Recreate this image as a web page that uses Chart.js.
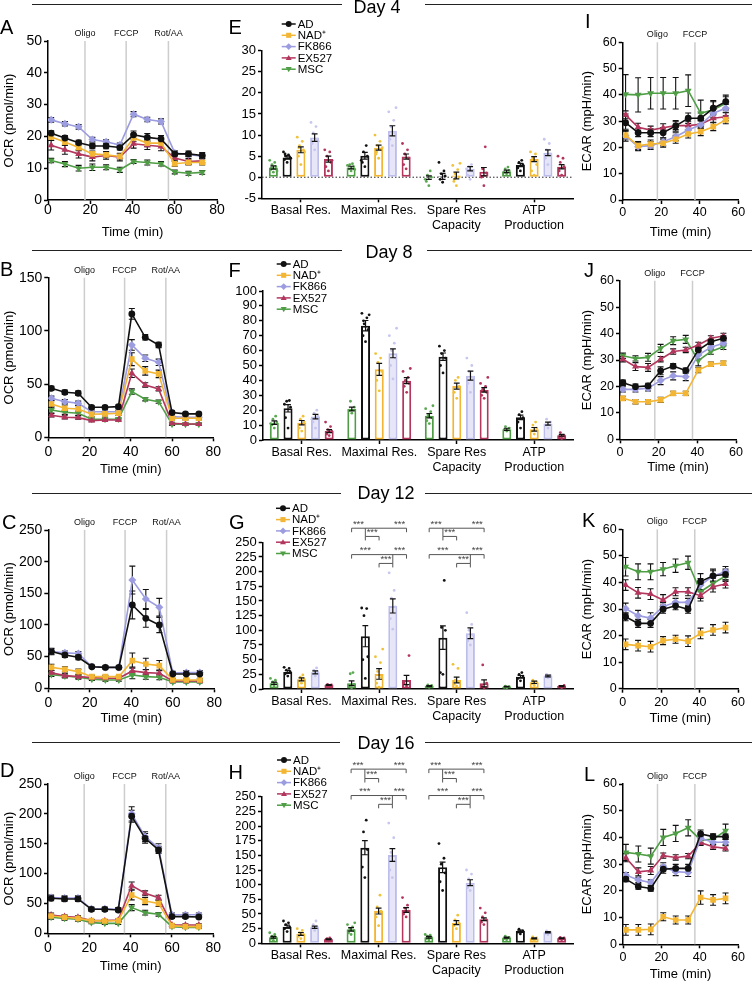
<!DOCTYPE html>
<html>
<head>
<meta charset="utf-8">
<script src="https://cdn.jsdelivr.net/npm/chart.js@4.4.1/dist/chart.umd.min.js"></script>
<style>
  body { margin: 0; background: #fff; font-family: 'Liberation Sans', Arial, sans-serif; }
  #page { position: relative; width: 752px; height: 982px; overflow: hidden; background: #fff; }
  canvas { position: absolute; }
  .letter { position: absolute; font-size: 20px; line-height: 20px; color: #000; }
  .day { position: absolute; font-size: 18px; line-height: 18px; color: #000; transform: translate(-50%, -50%); white-space: nowrap; }
  .rule { position: absolute; height: 0; border-top: 1.5px solid #222; }
</style>
</head>
<body>
<div id="page"></div>
<script>
const FONT = "'Liberation Sans', Arial, sans-serif";

// ---- series ----
const seriesNames = ['AD', 'NAD⁺', 'FK866', 'EX527', 'MSC'];
const seriesColors = ['#111111', '#f3b634', '#9c9ce0', '#b3365d', '#4f9e46'];
const dotColors = ['#111111', '#f0c23a', '#c6c6ef', '#b3365d', '#5aa852'];
const markers = ['circle', 'rect', 'rectRot', 'triangle', 'triangleDown'];
// bar order inside each group: MSC, AD, NAD+, FK866, EX527
const barSeries = [4, 0, 1, 2, 3];

// ---- time axes ----
const timesOCR = [1.5, 8, 14.5, 21, 27.5, 34, 40.5, 47, 53.5, 60, 66.5, 73];
const timesECAR = [1.5, 8, 14.5, 21, 27.5, 34, 40.5, 47, 53.5];
const ocrInjections = ['Oligo', 'FCCP', 'Rot/AA'];
const ocrInjectionTimes = [17.5, 37, 57];
const ecarInjections = ['Oligo', 'FCCP'];
const ecarInjectionTimes = [18, 37.5];
const ocrTimeTicks = [0, 20, 40, 60, 80];
const ecarTimeTicks = [0, 20, 40, 60];

// ---- y tick labels ----
const ocrTicksDay4 = [0, 10, 20, 30, 40, 50];
const ocrTicksDay8 = [0, 50, 100, 150];
const ocrTicksDay12 = [0, 50, 100, 150, 200, 250];
const ocrTicksDay16 = [0, 50, 100, 150, 200, 250];
const ecarTicks = [0, 10, 20, 30, 40, 50, 60];
const barTicksDay4 = [-5, 0, 5, 10, 15, 20, 25, 30];
const barTicksDay8 = [0, 10, 20, 30, 40, 50, 60, 70, 80, 90, 100];
const barTicksDay12 = [0, 25, 50, 75, 100, 125, 150, 175, 200, 225, 250];
const barTicksDay16 = [0, 25, 50, 75, 100, 125, 150, 175, 200, 225, 250];

// ---- OCR means / SEM (rows: AD, NAD+, FK866, EX527, MSC) ----
const ocrDay4Mean = [
  [21, 19.5, 18, 17, 17, 16.5, 20.5, 19.7, 19.2, 14.5, 14.5, 14],
  [19.8, 18.2, 16.5, 14.5, 14.2, 13.7, 19.5, 17.9, 17.9, 11.4, 11.8, 11.8],
  [25.2, 24, 23, 19, 18.3, 17.3, 27, 25.3, 24.7, 14.8, 14.3, 13.8],
  [17.2, 15.8, 14.5, 13.5, 14, 13.5, 17.7, 17.2, 16.8, 13.2, 12.1, 12.3],
  [12.4, 11.3, 10, 10.3, 10.3, 9.5, 12.1, 11.8, 11.4, 8.8, 8.4, 8.7]
];
const ocrDay4Sem = [
  [0.8, 0.8, 0.8, 0.9, 0.9, 0.8, 1.2, 1.2, 1.1, 0.9, 0.9, 0.9],
  [1.0, 1.0, 1.0, 0.9, 0.9, 0.8, 1.2, 1.1, 1.1, 0.8, 0.8, 0.8],
  [0.7, 0.7, 0.7, 0.7, 0.6, 0.6, 0.8, 0.7, 0.8, 0.6, 0.6, 0.6],
  [1.5, 1.4, 1.3, 1.2, 1.2, 1.2, 1.4, 1.3, 1.3, 0.9, 0.9, 0.9],
  [0.7, 0.8, 0.9, 1.0, 0.8, 0.8, 0.6, 0.8, 0.7, 0.6, 0.6, 0.6]
];
const ocrDay8Mean = [
  [46, 42.3, 41.4, 28.2, 28.2, 28.8, 116, 94, 86.8, 23.2, 22, 22],
  [31.3, 27.3, 26.6, 21.6, 22, 22.6, 73.4, 62.4, 59.6, 17.9, 17.9, 17.9],
  [36.7, 33.5, 32, 24, 24, 24, 86.8, 74.3, 70.5, 19.4, 18.8, 18.8],
  [20.7, 18.8, 18.5, 15.7, 16.3, 16.3, 60.2, 49.2, 45.5, 13.2, 12.5, 12.5],
  [25.7, 23.5, 22.6, 17, 17, 17.2, 43, 35.7, 33.5, 12.2, 12.2, 12.2]
];
const ocrDay8Sem = [
  [2, 2, 2, 1.5, 1.5, 1.5, 5, 2.5, 2.5, 1.5, 1, 1],
  [3, 3, 3, 2, 2, 2, 6, 4, 3.5, 1.5, 1.5, 1.5],
  [2, 2, 2, 1.5, 1.5, 1.5, 5, 3, 3, 1, 1, 1],
  [1.5, 1.5, 1.5, 1, 1, 1, 4, 2, 2, 1, 1, 1],
  [3, 2, 2, 1, 1, 1, 2.5, 1.5, 1.5, 1, 1, 1]
];
const ocrDay12Mean = [
  [58, 52.6, 49, 34, 33, 33, 131.6, 110.5, 100, 22.6, 22.6, 22.6],
  [33, 30, 26.3, 18.4, 18.4, 18.4, 43.7, 38.4, 35.8, 13.2, 13.2, 13.2],
  [58, 56, 55, 34, 33, 33, 171, 141, 128, 24, 25, 25],
  [24.7, 20, 18.4, 16.8, 15.8, 15.8, 27.4, 24.7, 23.7, 11.6, 11.6, 11.6],
  [21.6, 19.5, 17.4, 14.2, 13.2, 13.2, 21, 18.4, 17.4, 10, 10, 10]
];
const ocrDay12Sem = [
  [5, 4, 4, 2, 2, 2, 22, 14, 12, 2, 2, 2],
  [5, 4, 4, 2, 2, 2, 12, 9, 8, 2, 2, 2],
  [4, 3, 3, 2, 2, 2, 22, 15, 14, 3, 3, 3],
  [3, 3, 3, 2, 2, 2, 6, 5, 5, 1.5, 1.5, 1.5],
  [3, 3, 3, 2, 2, 2, 6, 4, 4, 1.5, 1.5, 1.5]
];
const ocrDay16Mean = [
  [58.6, 57.5, 57.5, 40.2, 40.2, 39, 196, 159, 139.5, 28, 28, 27.3],
  [29, 26.8, 25, 21.2, 20.6, 21.2, 64, 54, 50, 12.8, 11.2, 11.2],
  [60, 59, 59, 41, 41, 40, 200, 162, 143, 31, 31, 31],
  [30.7, 28, 26.8, 21.2, 21.2, 22.3, 79.8, 67, 59.7, 14, 14, 14],
  [26.8, 25, 23.4, 17.9, 16.7, 16.7, 43, 34.6, 31.8, 11.2, 10, 10]
];
const ocrDay16Sem = [
  [4, 4, 4, 3, 3, 3, 10, 8, 6, 3, 3, 3],
  [3, 3, 3, 2, 2, 2, 8, 6, 5, 2, 2, 2],
  [4, 4, 4, 3, 3, 3, 12, 8, 7, 3, 3, 3],
  [3, 3, 3, 2, 2, 2, 6, 4, 4, 2, 2, 2],
  [3, 3, 3, 2, 2, 2, 5, 4, 3, 2, 2, 2]
];

// ---- ECAR means / SEM ----
const ecarDay4Mean = [
  [29.4, 25.6, 25.6, 25.6, 28.2, 31.1, 31.1, 34.9, 37.4],
  [24.7, 20.7, 21.3, 21.6, 23.1, 25.1, 26, 27.9, 30.5],
  [24.4, 20.3, 20.7, 22.2, 24.1, 26.6, 28.6, 33, 34.9],
  [32.4, 27.7, 26.6, 27.5, 28.3, 28.3, 28.8, 31.1, 31.7],
  [40.2, 40, 40.6, 40.6, 40.6, 41.6, 33, 34.3, 36.8]
];
const ecarDay4Sem = [
  [2.5, 1.5, 1.5, 2, 2, 2, 2, 2.5, 2.5],
  [1.5, 1.5, 1.5, 1.5, 1.5, 1.5, 1.5, 1.5, 1.5],
  [2, 1.5, 1.5, 1.5, 1.5, 1.5, 1.5, 1.5, 1.5],
  [1.5, 1.5, 1.5, 1.5, 1.5, 1.5, 1.5, 1.5, 1.5],
  [7.5, 6.5, 6, 6, 6, 6, 5, 3.5, 2.5]
];
const ecarDay8Mean = [
  [21.4, 19.9, 20.2, 25.9, 27.7, 26, 33.8, 36.9, 38.2],
  [15.5, 14.2, 14.2, 14.9, 17.4, 17.4, 26.2, 28.4, 28.8],
  [18.9, 18.9, 19.3, 22.2, 24, 23.7, 31.9, 34.8, 36.3],
  [30.3, 27.5, 27.2, 30.3, 33.2, 33.8, 35.7, 38.2, 39.1],
  [31.6, 30.6, 31, 34.4, 37.3, 37.8, 29.8, 33.2, 35]
];
const ecarDay8Sem = [
  [1, 1, 1, 1.5, 1, 1, 1.5, 1, 1],
  [0.8, 0.8, 0.8, 1, 0.8, 0.8, 1, 0.8, 0.8],
  [1, 1, 1, 1.5, 1.5, 1.5, 1.5, 1, 1],
  [1, 1.5, 1.5, 1, 1, 1, 1, 1, 1],
  [1, 1, 1.5, 1.5, 1.5, 1.5, 2, 1, 1]
];
const ecarDay12Mean = [
  [27.1, 24.6, 24.6, 29.9, 31.2, 29.9, 40.3, 42.5, 43],
  [16.7, 16.2, 15.8, 18.1, 18.6, 17.9, 20.8, 22.1, 23],
  [30.2, 27.5, 26.6, 30.9, 32.5, 32.5, 39, 42.4, 44],
  [39, 36.1, 35.6, 33.4, 36.5, 36.5, 35, 38.4, 39.4],
  [45.9, 44, 44, 45, 46.3, 47.4, 36.5, 39.6, 42.4]
];
const ecarDay12Sem = [
  [1.5, 1.5, 1.5, 1.5, 1.5, 1.5, 3, 2.5, 2],
  [2, 2, 2, 1.5, 1.5, 2, 2, 2, 2],
  [2, 2, 2, 1.5, 1.5, 1.5, 2.5, 2, 2],
  [2, 2, 2, 2, 1.5, 1.5, 2, 2, 1.5],
  [3.5, 3, 3, 2.5, 2.5, 2.5, 2.5, 2, 2]
];
const ecarDay16Mean = [
  [24.4, 21.6, 20.9, 28.1, 28.4, 28.4, 41.3, 40.3, 40.3],
  [5.4, 5.4, 5.6, 10.3, 9.1, 9.1, 17.5, 16.6, 17.2],
  [25.9, 24.1, 23.1, 29, 27.2, 26.9, 39.7, 38.2, 38.2],
  [32.4, 27.1, 27.6, 33.2, 32.5, 33, 38, 36.5, 35.9],
  [34.4, 33.8, 33, 40, 41.5, 43.6, 39, 39.3, 42.5]
];
const ecarDay16Sem = [
  [1, 1, 1, 1.5, 1.5, 1.5, 1.5, 1, 1],
  [2, 2, 2, 1.5, 1.5, 1.5, 2.5, 2, 2],
  [1, 1, 1, 1.5, 1.5, 1.5, 1.5, 1, 1],
  [1.5, 1.5, 1.5, 1, 1, 1, 1, 1, 1],
  [3, 3, 3, 3, 3, 3, 1.5, 2, 2.5]
];

// ---- bar panels (rows: MSC, AD, NAD+, FK866, EX527; cols: categories) ----
const categories = [['Basal Res.'], ['Maximal Res.'], ['Spare Res', 'Capacity'], ['ATP', 'Production']];

const barsDay4Mean = [[2.3, 2.3, -0.1, 1.4], [4.7, 5.1, 0.2, 2.9], [6.5, 7.0, 0.4, 4.3], [9.4, 11.0, 2.0, 5.8], [4.3, 4.9, 1.3, 2.5]];
const barsDay4Sem = [[0.4, 0.3, 0.4, 0.3], [0.4, 0.8, 0.7, 0.4], [0.7, 0.6, 0.8, 0.6], [0.9, 1.2, 0.5, 0.7], [0.7, 0.6, 1.0, 0.5]];
const dotsDay4 = [
  [[1.2, 1.8, 2.5, 3.0, 3.5, 4.0, 1.5, 2.2], [1.5, 2.0, 2.5, 3.0, 3.2, 2.8, 1.8], [-2.0, -1.0, 0.0, 0.5, 1.5, -0.5], [0.8, 1.2, 1.6, 2.0, 2.4]],
  [[3.5, 4.2, 4.8, 5.0, 5.3, 6.0, 4.5, 5.5], [2.5, 3.5, 5.0, 6.0, 7.5, 4.0], [-1.2, -0.5, 0.3, 0.8, 1.5, 3.5], [1.5, 2.2, 3.0, 3.5, 4.0]],
  [[3.0, 5.0, 6.5, 7.5, 8.5, 9.5, 6.0, 7.0], [4.5, 5.5, 6.5, 7.5, 8.5, 10.0, 7.0, 6.0], [-2.0, -1.0, 0.0, 0.8, 1.8, 2.8, 3.3, -0.5], [0.5, 1.5, 3.0, 4.5, 5.5, 6.0]],
  [[6.5, 8.0, 9.0, 10.5, 12.0, 13.0, 8.5], [7.5, 9.0, 10.5, 12.0, 13.5, 15.5, 16.5], [-0.5, 0.5, 1.5, 2.5, 3.0, 2.0], [3.0, 4.5, 5.5, 6.5, 8.0, 9.0]],
  [[1.5, 2.5, 3.5, 5.0, 6.0, 6.5, 4.0], [2.0, 3.0, 4.5, 5.5, 6.5, 8.0], [-2.0, 0.0, 1.0, 2.0, 7.2], [0.5, 1.5, 2.5, 3.5, 4.5, 5.0]]
];

const barsDay8Mean = [[11.6, 20.8, 16.3, 7.2], [21.3, 76.7, 55.9, 15.2], [11.6, 47.4, 36.2, 7.2], [15.7, 58.2, 43.2, 11.0], [6.0, 39.8, 33.6, 3.2]];
const barsDay8Sem = [[1.2, 1.2, 1.5, 0.7], [2.5, 3.5, 2.5, 1.5], [1.5, 4, 2, 1.2], [1.5, 3, 3, 1], [1, 2, 1.5, 0.6]];
const dotsDay8 = [
  [[8, 10, 12, 14, 16, 11], [18, 20, 22, 26], [11, 13, 15, 17, 19, 21, 23], [6, 7, 8, 9]],
  [[8, 15, 22, 26, 26.5, 24], [66, 70, 74, 78, 82, 85, 84, 80], [45, 50, 55, 58, 60, 63], [8, 12, 15, 17, 19]],
  [[6, 8, 12, 14, 16], [33, 40, 46, 52, 55, 58], [28, 32, 36, 40, 42], [4, 6, 8, 10, 12]],
  [[8, 12, 16, 18, 20, 14], [41, 50, 55, 60, 65, 70, 75], [32, 38, 42, 46, 50, 55], [8, 10, 12, 14]],
  [[3, 4, 6, 7, 9, 12], [32, 36, 38, 40, 42, 46, 48], [28, 30, 32, 34, 36, 38, 42], [1, 2, 3, 5]]
];

const barsDay12Mean = [[9.7, 9.7, 5, 4], [29, 90, 87.5, 21], [16.5, 25.6, 15.3, 11.4], [28.4, 141.5, 95, 22], [6.8, 15.3, 9.7, 5]];
const barsDay12Sem = [[2, 4, 1, 0.5], [2.5, 18, 20, 2], [2.5, 9, 5, 2], [2.5, 12, 9, 1.5], [0.8, 8, 6, 0.8]];
const dotsDay12 = [
  [[5, 8, 10, 12, 15, 18], [2, 5, 8, 26, 28], [3, 4, 6, 7], [2, 3, 4, 5]],
  [[22, 26, 29, 32, 35, 37], [18, 50, 55, 125, 137, 138], [25, 28, 100, 105, 185], [14, 18, 22, 25, 28]],
  [[10, 14, 17, 20, 24], [3, 10, 20, 30, 45, 55, 68], [5, 8, 12, 15, 35, 42], [6, 9, 12, 15]],
  [[22, 26, 29, 32, 36], [102, 120, 140, 155, 168, 198], [75, 82, 92, 100, 110, 130], [19, 21, 23, 25]],
  [[5, 6, 7, 8], [5, 10, 57], [2, 5, 10, 41], [2, 4, 6]]
];

const barsDay16Mean = [[10.2, 23.9, 10.2, 9.7], [28.4, 163, 129.5, 21], [15.9, 55, 35.2, 8.5], [27.3, 150.6, 103.4, 18.8], [6.8, 56.8, 41, 8.5]];
const barsDay16Sem = [[1.5, 3, 1.5, 0.8], [2.5, 12, 9, 1.5], [2.5, 5, 3.5, 1], [2, 11, 5, 1], [0.6, 4, 2.5, 0.6]];
const dotsDay16 = [
  [[5, 8, 10, 12, 15, 18], [15, 18, 22, 25, 28, 32, 35], [6, 8, 10, 12, 14, 15], [6, 8, 10, 12]],
  [[20, 25, 28, 32, 35, 38], [112, 130, 160, 190, 210], [90, 105, 120, 135, 145, 170], [16, 19, 21, 24]],
  [[8, 12, 15, 18, 22, 25], [30, 45, 55, 62, 82], [25, 30, 35, 40, 48], [5, 7, 9, 11]],
  [[22, 26, 28, 32, 38], [112, 125, 140, 155, 180, 205], [90, 95, 100, 110, 118, 125], [15, 17, 19, 21]],
  [[4, 6, 7, 8, 9], [45, 50, 55, 60, 65, 78], [32, 36, 40, 45, 52, 60], [6, 8, 9, 10]]
];

// significance brackets (Maximal and Spare groups), levels in axis units
const sigGroups = [1, 2];
const sigLevelsDay12 = [274, 260, 229, 214];
const sigLevelsDay16 = [297, 281, 252, 237];
const sigLines = [[0, 0, 4, -1], [1, 1, 2, 1], [2, 0, 4, -1], [3, 2, 3, 3]]; // level, from bar, to bar, joined bar
const sigLabels = [[0, 0, 1], [0, 3, 4], [1, 1, 2], [2, 0, 2], [2, 3, 4], [3, 2, 3]];

// ---------------------------------------------------------------
const page = document.getElementById('page');

function makeCanvas(box) {
  const c = document.createElement('canvas');
  c.width = box[2] - box[0];
  c.height = box[3] - box[1];
  c.style.left = box[0] + 'px';
  c.style.top = box[1] + 'px';
  c.style.width = c.width + 'px';
  c.style.height = c.height + 'px';
  page.appendChild(c);
  return c;
}

function drawMarker(ctx, style, x, y, r) {
  ctx.beginPath();
  if (style === 'circle') ctx.arc(x, y, r, 0, Math.PI * 2);
  else if (style === 'rect') ctx.rect(x - r * 0.85, y - r * 0.85, r * 1.7, r * 1.7);
  else if (style === 'rectRot') { ctx.moveTo(x, y - r * 1.1); ctx.lineTo(x + r * 1.1, y); ctx.lineTo(x, y + r * 1.1); ctx.lineTo(x - r * 1.1, y); ctx.closePath(); }
  else if (style === 'triangle') { ctx.moveTo(x, y - r); ctx.lineTo(x + r, y + r * 0.7); ctx.lineTo(x - r, y + r * 0.7); ctx.closePath(); }
  else { ctx.moveTo(x, y + r); ctx.lineTo(x + r, y - r * 0.7); ctx.lineTo(x - r, y - r * 0.7); ctx.closePath(); }
  ctx.fill();
}

function axisBase(size) {
  return {
    border: { color: '#000', width: 1.5 },
    grid: { drawOnChartArea: false, drawTicks: true, tickLength: 4, tickColor: '#000', tickWidth: 1.5 },
    ticks: { color: '#000', font: { family: FONT, size: size }, padding: 2, maxRotation: 0, minRotation: 0, autoSkip: false }
  };
}

function tickRange(ticks) {
  return { min: ticks[0], max: ticks[ticks.length - 1], step: ticks[1] - ticks[0] };
}

// vertical injection lines + their labels
const injectPlugin = {
  id: 'inject',
  beforeDatasetsDraw(chart, args, opts) {
    const { ctx, chartArea, scales: { x } } = chart;
    ctx.save();
    opts.times.forEach((t, i) => {
      const px = x.getPixelForValue(t);
      ctx.strokeStyle = '#cdcdcd';
      ctx.lineWidth = 1.5;
      ctx.beginPath();
      ctx.moveTo(px, chartArea.top);
      ctx.lineTo(px, chartArea.bottom);
      ctx.stroke();
      ctx.fillStyle = '#111';
      ctx.font = '9px ' + FONT;
      ctx.textAlign = 'center';
      ctx.textBaseline = 'middle';
      ctx.fillText(opts.names[i], px, chartArea.top - 7.5);
    });
    ctx.restore();
  }
};

// error bars for the time courses
const errorPlugin = {
  id: 'errbars',
  beforeDatasetsDraw(chart) {
    const { ctx, scales: { y } } = chart;
    ctx.save();
    ctx.strokeStyle = '#111';
    ctx.lineWidth = 1.1;
    chart.data.datasets.forEach((ds, di) => {
      chart.getDatasetMeta(di).data.forEach((pt, i) => {
        const v = ds.data[i].y, e = ds.errors[i];
        const y1 = y.getPixelForValue(v + e), y2 = y.getPixelForValue(v - e);
        ctx.beginPath();
        ctx.moveTo(pt.x, y1); ctx.lineTo(pt.x, y2);
        ctx.moveTo(pt.x - 3, y1); ctx.lineTo(pt.x + 3, y1);
        ctx.moveTo(pt.x - 3, y2); ctx.lineTo(pt.x + 3, y2);
        ctx.stroke();
      });
    });
    ctx.restore();
  }
};

// dots, SEM bars, legend, zero line and brackets for the bar panels
const spread = [0, -0.55, 0.55, -0.3, 0.3, -0.8, 0.8, -0.45, 0.45, 0.15, -0.15];
const barPlugin = {
  id: 'barExtras',
  beforeDatasetsDraw(chart, args, opts) {
    if (!opts.zeroLine) return;
    const { ctx, chartArea, scales: { y } } = chart;
    const py = y.getPixelForValue(0);
    ctx.save();
    ctx.strokeStyle = '#222';
    ctx.lineWidth = 1;
    ctx.setLineDash([1.5, 2]);
    ctx.beginPath();
    ctx.moveTo(chartArea.left, py);
    ctx.lineTo(chartArea.right, py);
    ctx.stroke();
    ctx.restore();
  },
  afterDatasetsDraw(chart, args, opts) {
    const { ctx, scales: { y } } = chart;
    ctx.save();
    chart.data.datasets.forEach((ds, di) => {
      const s = barSeries[di];
      chart.getDatasetMeta(di).data.forEach((bar, g) => {
        ctx.fillStyle = dotColors[s];
        ds.dots[g].forEach((v, k) => {
          ctx.beginPath();
          ctx.arc(bar.x + spread[k % spread.length] * bar.width * 0.5, y.getPixelForValue(v), 1.4, 0, Math.PI * 2);
          ctx.fill();
        });
      });
    });
    ctx.strokeStyle = '#111';
    ctx.lineWidth = 1.2;
    chart.data.datasets.forEach((ds, di) => {
      chart.getDatasetMeta(di).data.forEach((bar, g) => {
        const v = ds.data[g], e = ds.errors[g];
        const y1 = y.getPixelForValue(v + e), y2 = y.getPixelForValue(v - e);
        const cw = bar.width * 0.32;
        ctx.beginPath();
        ctx.moveTo(bar.x, y1); ctx.lineTo(bar.x, y2);
        ctx.moveTo(bar.x - cw, y1); ctx.lineTo(bar.x + cw, y1);
        ctx.moveTo(bar.x - cw, y2); ctx.lineTo(bar.x + cw, y2);
        ctx.stroke();
      });
    });
    ctx.restore();
  },
  afterDraw(chart, args, opts) {
    const { ctx, scales: { y } } = chart;
    ctx.save();
    // legend
    const lx = opts.legend[0], ly = opts.legend[1];
    seriesNames.forEach((name, s) => {
      const yy = ly + s * 11.3;
      ctx.strokeStyle = seriesColors[s];
      ctx.fillStyle = seriesColors[s];
      ctx.lineWidth = 1.5;
      ctx.beginPath();
      ctx.moveTo(lx, yy); ctx.lineTo(lx + 14, yy);
      ctx.stroke();
      drawMarker(ctx, markers[s], lx + 7, yy, 3);
      ctx.fillStyle = '#000';
      ctx.font = '11.5px ' + FONT;
      ctx.textAlign = 'left';
      ctx.textBaseline = 'middle';
      ctx.fillText(name, lx + 16, yy + 0.5);
    });
    // significance brackets
    if (opts.sig) {
      const barX = (g, b) => chart.getDatasetMeta(b).data[g].x;
      const lvlY = l => y.getPixelForValue(opts.sig[l]);
      ctx.strokeStyle = '#555';
      ctx.lineWidth = 1;
      sigGroups.forEach(g => {
        sigLines.forEach(([l, a, b, j]) => {
          const py = lvlY(l), x1 = barX(g, a), x2 = barX(g, b);
          ctx.beginPath();
          ctx.moveTo(x1, py); ctx.lineTo(x2, py);
          ctx.moveTo(x1, py); ctx.lineTo(x1, py + 4);
          ctx.moveTo(x2, py); ctx.lineTo(x2, py + 4);
          if (j >= 0) { ctx.moveTo(barX(g, j), lvlY(l - 1)); ctx.lineTo(barX(g, j), py); }
          ctx.stroke();
        });
        ctx.fillStyle = '#444';
        ctx.font = '9.5px ' + FONT;
        ctx.textAlign = 'center';
        ctx.textBaseline = 'bottom';
        sigLabels.forEach(([l, a, b]) => {
          ctx.fillText('***', (barX(g, a) + barX(g, b)) / 2, lvlY(l) + 1);
        });
      });
    }
    ctx.restore();
  }
};

function lineChart(p) {
  const canvas = makeCanvas(p.box);
  const ocr = p.kind === 'ocr';
  const times = ocr ? timesOCR : timesECAR;
  const xr = tickRange(ocr ? ocrTimeTicks : ecarTimeTicks);
  const yr = tickRange(p.ticks);
  const tickSize = ocr ? 14 : 12.5;
  const datasets = seriesNames.map((name, s) => ({
    label: name,
    data: times.map((t, i) => ({ x: t, y: p.mean[s][i] })),
    errors: p.sem[s],
    borderColor: seriesColors[s],
    backgroundColor: seriesColors[s],
    borderWidth: 1.6,
    pointStyle: s === 4 ? 'triangle' : markers[s],
    pointRotation: s === 4 ? 180 : 0,
    pointRadius: s === 0 ? 3.4 : 4,
    pointBorderWidth: 0,
    tension: 0
  }));
  const x = axisBase(tickSize);
  Object.assign(x, {
    type: 'linear', min: xr.min, max: xr.max,
    title: { display: true, text: 'Time (min)', color: '#000', font: { family: FONT, size: 13 }, padding: 0 },
    afterFit: s => { s.height = p.box[3] - p.area[3]; }
  });
  x.ticks.stepSize = xr.step;
  x.ticks.padding = p.xPad;
  const y = axisBase(tickSize);
  Object.assign(y, {
    min: yr.min, max: yr.max,
    title: { display: true, text: ocr ? 'OCR (pmol/min)' : 'ECAR (mpH/min)', color: '#000', font: { family: FONT, size: 13 }, padding: { top: ocr ? 2 : 0, bottom: 0 } },
    afterFit: s => { s.width = p.area[0] - p.box[0]; }
  });
  y.ticks.stepSize = yr.step;
  new Chart(canvas, {
    type: 'line',
    data: { datasets },
    options: {
      responsive: false, animation: false, events: [],
      layout: { padding: { left: 0, bottom: 0, top: p.area[1] - p.box[1], right: p.box[2] - p.area[2] } },
      plugins: {
        legend: { display: false }, tooltip: { enabled: false },
        inject: { names: ocr ? ocrInjections : ecarInjections, times: ocr ? ocrInjectionTimes : ecarInjectionTimes }
      },
      scales: { x, y }
    },
    plugins: [injectPlugin, errorPlugin]
  });
}

function barChart(p) {
  const canvas = makeCanvas(p.box);
  const yr = tickRange(p.ticks);
  const datasets = barSeries.map((s, di) => ({
    label: seriesNames[s],
    data: p.mean[di],
    errors: p.sem[di],
    dots: p.dots[di],
    borderColor: s === 2 ? '#bdbdec' : seriesColors[s],
    backgroundColor: s === 2 ? '#e6e6f8' : '#ffffff',
    borderWidth: 2,
    borderSkipped: false,
    categoryPercentage: 0.885,
    barPercentage: 0.66
  }));
  const x = axisBase(12.5);
  Object.assign(x, {
    type: 'category', offset: true,
    afterFit: s => { s.height = p.box[3] - p.area[3]; }
  });
  x.grid.offset = false;
  x.ticks.padding = 1;
  const y = axisBase(13);
  Object.assign(y, {
    min: yr.min, max: yr.max,
    afterFit: s => { s.width = p.area[0] - p.box[0]; }
  });
  y.ticks.stepSize = yr.step;
  new Chart(canvas, {
    type: 'bar',
    data: { labels: categories, datasets },
    options: {
      responsive: false, animation: false, events: [],
      layout: { padding: { left: 0, bottom: 0, top: p.area[1] - p.box[1], right: p.box[2] - p.area[2] } },
      plugins: {
        legend: { display: false }, tooltip: { enabled: false },
        barExtras: { legend: [p.legend[0] - p.box[0], p.legend[1] - p.box[1]], zeroLine: p.zeroLine, sig: p.sig }
      },
      scales: { x, y }
    },
    plugins: [barPlugin]
  });
}

// ---- panels ----
lineChart({ kind: 'ocr', mean: ocrDay4Mean, sem: ocrDay4Sem, ticks: ocrTicksDay4, xPad: -2, box: [0, 22, 234, 240], area: [48, 41, 217, 200] });
lineChart({ kind: 'ocr', mean: ocrDay8Mean, sem: ocrDay8Sem, ticks: ocrTicksDay8, xPad: 2, box: [0, 262, 234, 477], area: [48.3, 277.7, 213.3, 437.3] });
lineChart({ kind: 'ocr', mean: ocrDay12Mean, sem: ocrDay12Sem, ticks: ocrTicksDay12, xPad: 2, box: [0, 510, 234, 726], area: [48.3, 530, 214.3, 688.3] });
lineChart({ kind: 'ocr', mean: ocrDay16Mean, sem: ocrDay16Sem, ticks: ocrTicksDay16, xPad: 2, box: [0, 765, 234, 974], area: [48, 784, 213.3, 933.3] });

lineChart({ kind: 'ecar', mean: ecarDay4Mean, sem: ecarDay4Sem, ticks: ecarTicks, xPad: 1, box: [580, 22, 752, 240], area: [622.7, 42.3, 738.3, 200] });
lineChart({ kind: 'ecar', mean: ecarDay8Mean, sem: ecarDay8Sem, ticks: ecarTicks, xPad: 2, box: [580, 262, 752, 475], area: [620, 280.7, 736, 439.3] });
lineChart({ kind: 'ecar', mean: ecarDay12Mean, sem: ecarDay12Sem, ticks: ecarTicks, xPad: 2, box: [580, 510, 752, 726], area: [622.7, 529.3, 738, 688.7] });
lineChart({ kind: 'ecar', mean: ecarDay16Mean, sem: ecarDay16Sem, ticks: ecarTicks, xPad: 2, box: [580, 765, 752, 982], area: [623, 784, 738, 944.3] });

barChart({ mean: barsDay4Mean, sem: barsDay4Sem, dots: dotsDay4, ticks: barTicksDay4, zeroLine: true, box: [236, 14, 582, 238], area: [262, 50.7, 573, 198.3], legend: [281.7, 24] });
barChart({ mean: barsDay8Mean, sem: barsDay8Sem, dots: dotsDay8, ticks: barTicksDay8, box: [236, 256, 582, 476], area: [263, 291, 573, 440], legend: [276.7, 264] });
barChart({ mean: barsDay12Mean, sem: barsDay12Sem, dots: dotsDay12, ticks: barTicksDay12, sig: sigLevelsDay12, box: [236, 500, 582, 724], area: [262.7, 542.3, 573, 689], legend: [276, 508.3] });
barChart({ mean: barsDay16Mean, sem: barsDay16Sem, dots: dotsDay16, ticks: barTicksDay16, sig: sigLevelsDay16, box: [236, 752, 582, 980], area: [262, 796.7, 573, 943.3], legend: [277, 760] });

// ---- day headers and panel letters ----
[['Day 4', 377, 7.3, 5, 342, 425], ['Day 8', 389, 251.7, 251, 341.7, 426.7], ['Day 12', 386, 493.3, 493.3, 340.7, 425], ['Day 16', 386, 743.3, 742.3, 340, 425]]
  .forEach(([txt, cx, cy, ly, l1, l2]) => {
    const d = document.createElement('div');
    d.className = 'day'; d.textContent = txt;
    d.style.left = cx + 'px'; d.style.top = cy + 'px';
    page.appendChild(d);
    [[32, l1], [l2, 752]].forEach(([a, b]) => {
      const r = document.createElement('div');
      r.className = 'rule';
      r.style.left = a + 'px'; r.style.width = (b - a) + 'px'; r.style.top = (ly - 0.75) + 'px';
      page.appendChild(r);
    });
  });

[['A', 0, 16.7], ['E', 228.5, 17.4], ['I', 585, 11.4], ['B', 0, 259.4], ['F', 228.5, 260.4], ['J', 584, 260.4],
 ['C', 2, 512.4], ['G', 229, 512.4], ['K', 582, 510.4], ['D', 0, 760.4], ['H', 228.5, 762.4], ['L', 584, 764.4]]
  .forEach(([t, x, y]) => {
    const d = document.createElement('div');
    d.className = 'letter'; d.textContent = t;
    d.style.left = x + 'px'; d.style.top = y + 'px';
    page.appendChild(d);
  });
</script>
</body>
</html>
